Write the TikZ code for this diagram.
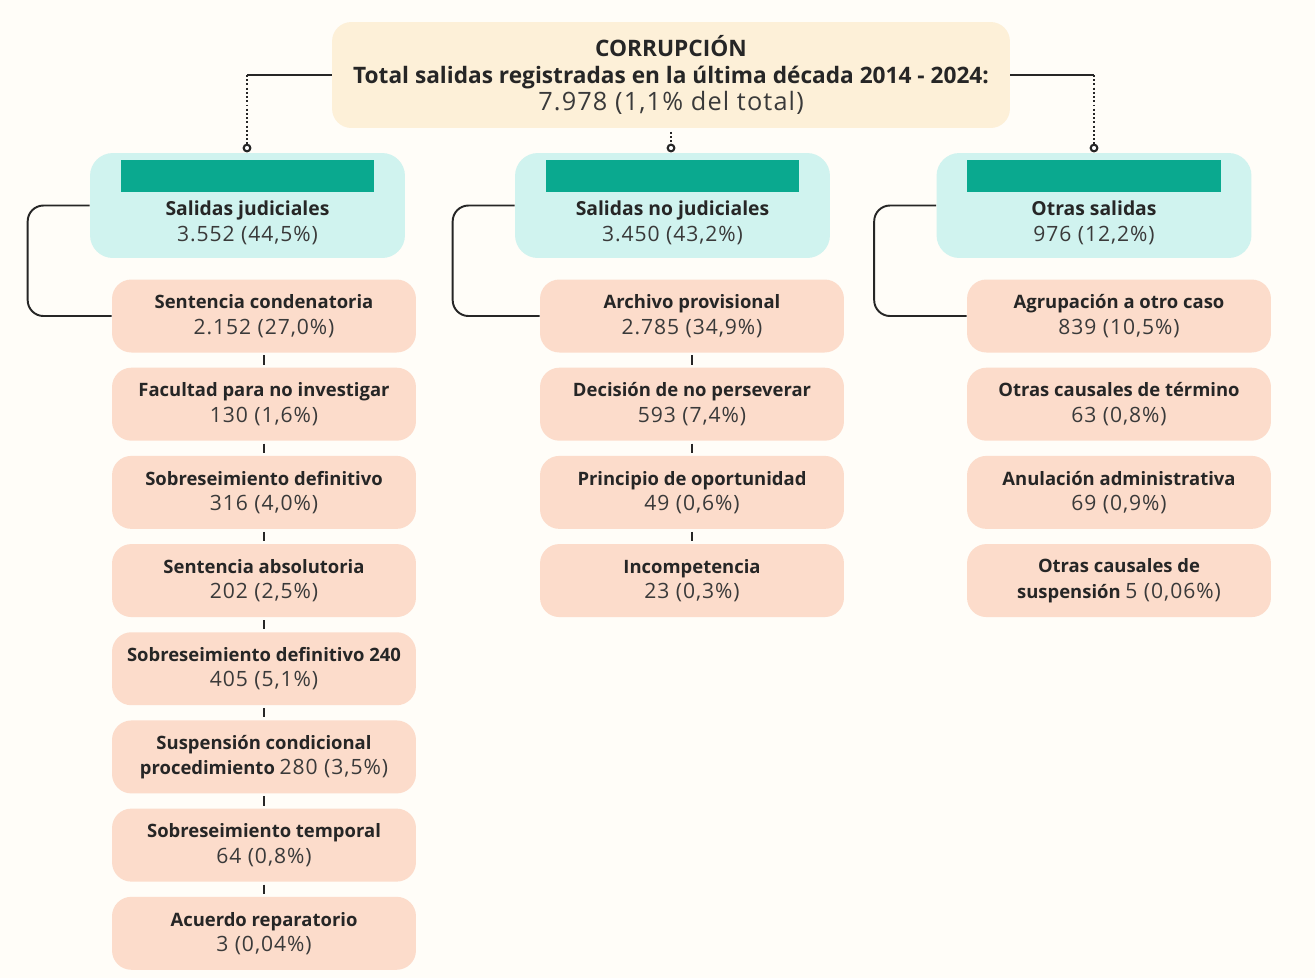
\documentclass[tikz,border=0pt]{standalone}
\usepackage{fontspec}
\setmainfont{Open Sans}
\newfontfamily\numfamily{Open Sans}[LetterSpace=4.5]
\usepackage{relsize}
\usepackage{xcolor}
\usetikzlibrary{positioning}
\definecolor{bgcream}{HTML}{FFFDF8}
\definecolor{topfill}{HTML}{FDF0D8}
\definecolor{catfill}{HTML}{D0F3EF}
\definecolor{catbar}{HTML}{0AA98F}
\definecolor{subfill}{HTML}{FCDCCB}
\definecolor{inkdark}{HTML}{262626}
\definecolor{inknum}{HTML}{3A3A3A}
\newcommand{\num}[1]{{\numfamily\mdseries\relscale{1.09}\color{inknum}#1}}

\begin{document}
\begin{tikzpicture}[x=0.02cm, y=-0.02cm,
  conn/.style={line width=1.1pt, inkdark},
  dotline/.style={line width=1.2pt, inkdark, dash pattern=on 1.1pt off 1.3pt},
  ringmark/.style={line width=1.2pt, draw=inkdark, fill=white},
  tickline/.style={line width=1.6pt, inkdark, shorten <=1.5pt, shorten >=1.5pt},
  topnode/.style={fill=topfill, rounded corners=11pt, minimum width=13.56cm,
    minimum height=2.12cm, align=center, text=inkdark,
    font=\fontsize{12.9}{15.6}\selectfont\bfseries},
  catnode/.style={fill=catfill, rounded corners=13pt, minimum width=6.3cm,
    minimum height=2.1cm},
  barnode/.style={fill=catbar, minimum width=5.08cm, minimum height=0.64cm,
    inner sep=0pt, below=0.14cm of #1},
  cattext/.style={align=center, inner sep=0pt, text=inkdark,
    font=\fontsize{11}{14.6}\selectfont\bfseries, below=0.17cm of #1},
  subnode/.style={fill=subfill, rounded corners=11pt, minimum width=6.08cm,
    minimum height=1.46cm, align=center, text=inkdark,
    font=\fontsize{10.5}{14.4}\selectfont\bfseries},
  node distance=0.29cm]

\fill[bgcream] (0,0) rectangle (1315,978);
\useasboundingbox (0,0) rectangle (1315,978);

\node[topnode] (top) at (671,75) {CORRUPCIÓN\\
  Total salidas registradas en la última década 2014 - 2024:\\
  \num{7.978 (1,1\% del total)}};

\node[catnode] (cj) at (247.5,205.5) {};
\node[catnode] (cn) at (672.5,205.5) {};
\node[catnode] (co) at (1094,205.5) {};
\node[barnode=cj.north] (cjbar) {};
\node[barnode=cn.north] (cnbar) {};
\node[barnode=co.north] (cobar) {};
\node[cattext=cjbar] (cjt) {Salidas judiciales\\ \num{3.552 (44,5\%)}};
\node[cattext=cnbar] (cnt) {Salidas no judiciales\\ \num{3.450 (43,2\%)}};
\node[cattext=cobar] (cot) {Otras salidas\\ \num{976 (12,2\%)}};

\node[subnode] (j1) at (264,316) {Sentencia condenatoria\\ \num{2.152 (27,0\%)}};
\node[subnode, below=of j1] (j2) {Facultad para no investigar\\ \num{130 (1,6\%)}};
\node[subnode, below=of j2] (j3) {Sobreseimiento definitivo\\ \num{316 (4,0\%)}};
\node[subnode, below=of j3] (j4) {Sentencia absolutoria\\ \num{202 (2,5\%)}};
\node[subnode, below=of j4] (j5) {Sobreseimiento definitivo 240\\ \num{405 (5,1\%)}};
\node[subnode, below=of j5] (j6) {Suspensión condicional\\ procedimiento \num{280 (3,5\%)}};
\node[subnode, below=of j6] (j7) {Sobreseimiento temporal\\ \num{64 (0,8\%)}};
\node[subnode, below=of j7] (j8) {Acuerdo reparatorio\\ \num{3 (0,04\%)}};

\node[subnode] (n1) at (692,316) {Archivo provisional\\ \num{2.785 (34,9\%)}};
\node[subnode, below=of n1] (n2) {Decisión de no perseverar\\ \num{593 (7,4\%)}};
\node[subnode, below=of n2] (n3) {Principio de oportunidad\\ \num{49 (0,6\%)}};
\node[subnode, below=of n3] (n4) {Incompetencia\\ \num{23 (0,3\%)}};

\node[subnode] (o1) at (1119,316) {Agrupación a otro caso\\ \num{839 (10,5\%)}};
\node[subnode, below=of o1] (o2) {Otras causales de término\\ \num{63 (0,8\%)}};
\node[subnode, below=of o2] (o3) {Anulación administrativa\\ \num{69 (0,9\%)}};
\node[subnode, below=of o3] (o4) {Otras causales de\\ suspensión \num{5 (0,06\%)}};

\coordinate (dj) at (247,148);
\coordinate (dn) at (671,148);
\coordinate (do) at (1094,148);
\draw[conn] (top.west) -- (top.west -| dj);
\draw[dotline] (top.west -| dj) -- ([yshift=2pt]dj);
\draw[dotline] ([yshift=-2pt]top.south) -- ([yshift=2pt]dn);
\draw[conn] (top.east) -- (top.east -| do);
\draw[dotline] (top.east -| do) -- ([yshift=2pt]do);
\foreach \d in {dj, dn, do}
  \draw[ringmark] (\d) circle (1.9pt);

\draw[conn, rounded corners=9pt] (cj.west) -- ++(-62,0) |- (j1.west);
\draw[conn, rounded corners=9pt] (cn.west) -- ++(-62,0) |- (n1.west);
\draw[conn, rounded corners=9pt] (co.west) -- ++(-62,0) |- (o1.west);

\foreach \a/\b in {j1/j2, j2/j3, j3/j4, j4/j5, j5/j6, j6/j7, j7/j8,
                   n1/n2, n2/n3, n3/n4}
  \draw[tickline] (\a) -- (\b);
\end{tikzpicture}
\end{document}
